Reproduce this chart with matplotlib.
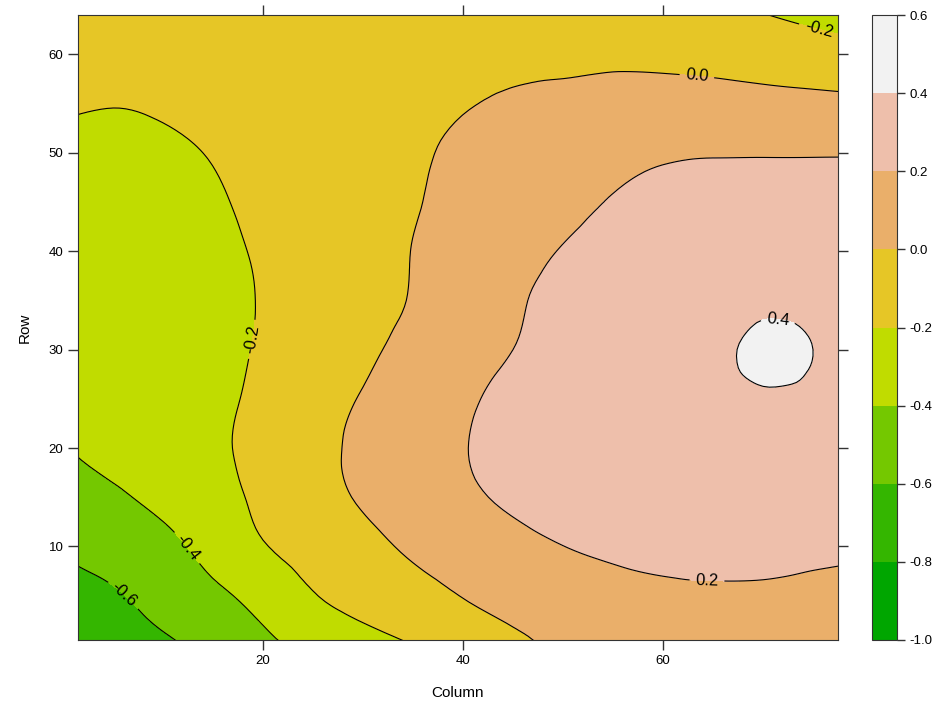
import numpy as np
import matplotlib.pyplot as plt
import matplotlib.tri as mtri

plt.rcParams['font.family'] = ['Liberation Sans', 'DejaVu Sans']

# grid (value estimated at every 5 columns / 5 rows)
columns = [0, 5, 10, 15, 20, 25, 30, 35, 40, 45, 50, 55, 60, 65, 70, 75, 80]
rows = [0, 5, 10, 15, 20, 25, 30, 35, 40, 45, 50, 55, 60, 65]
values = [
    [-0.76, -0.69, -0.63, -0.54, -0.44, -0.35, -0.27, -0.20, -0.12, -0.04, 0.03, 0.07, 0.10, 0.11, 0.11, 0.10, 0.08],
    [-0.68, -0.62, -0.53, -0.44, -0.33, -0.21, -0.13, -0.06, 0.005, 0.06, 0.10, 0.135, 0.165, 0.173, 0.17, 0.155, 0.14],
    [-0.58, -0.52, -0.45, -0.33, -0.21, -0.13, -0.05, 0.024, 0.082, 0.14, 0.198, 0.24, 0.26, 0.27, 0.27, 0.25, 0.235],
    [-0.50, -0.43, -0.35, -0.26, -0.167, -0.074, 0.019, 0.088, 0.16, 0.235, 0.29, 0.32, 0.335, 0.345, 0.345, 0.335, 0.32],
    [-0.41, -0.34, -0.29, -0.23, -0.15, -0.06, 0.04, 0.11, 0.19, 0.27, 0.31, 0.34, 0.36, 0.37, 0.375, 0.37, 0.36],
    [-0.37, -0.33, -0.29, -0.24, -0.16, -0.07, 0.01, 0.09, 0.17, 0.25, 0.30, 0.33, 0.36, 0.375, 0.39, 0.385, 0.375],
    [-0.34, -0.32, -0.29, -0.25, -0.18, -0.10, -0.03, 0.05, 0.13, 0.20, 0.27, 0.31, 0.35, 0.375, 0.42, 0.40, 0.365],
    [-0.32, -0.31, -0.29, -0.25, -0.19, -0.123, -0.056, 0.01, 0.095, 0.177, 0.25, 0.30, 0.34, 0.365, 0.38, 0.375, 0.365],
    [-0.30, -0.30, -0.28, -0.24, -0.18, -0.12, -0.06, 0.003, 0.06, 0.13, 0.21, 0.27, 0.31, 0.33, 0.34, 0.34, 0.33],
    [-0.28, -0.28, -0.26, -0.22, -0.16, -0.11, -0.06, -0.01, 0.04, 0.09, 0.15, 0.21, 0.25, 0.27, 0.28, 0.28, 0.28],
    [-0.25, -0.25, -0.23, -0.19, -0.14, -0.10, -0.06, -0.02, 0.03, 0.08, 0.12, 0.15, 0.18, 0.19, 0.19, 0.19, 0.19],
    [-0.18, -0.195, -0.18, -0.15, -0.12, -0.09, -0.06, -0.035, -0.01, 0.02, 0.04, 0.06, 0.07, 0.07, 0.06, 0.05, 0.04],
    [-0.14, -0.15, -0.14, -0.12, -0.10, -0.08, -0.06, -0.05, -0.04, -0.03, -0.03, -0.03, -0.04, -0.06, -0.09, -0.12, -0.15],
    [-0.10, -0.10, -0.10, -0.09, -0.08, -0.07, -0.07, -0.07, -0.07, -0.08, -0.09, -0.11, -0.14, -0.18, -0.22, -0.26, -0.30],
]
levels = [-1.0, -0.8, -0.6, -0.4, -0.2, 0.0, 0.2, 0.4, 0.6]
level_colors = ['#00A600', '#34B600', '#74C800', '#C0DC00',
                '#E6C626', '#EAAF6A', '#EEBFAB', '#F2F2F2']
# where the contour labels sit (column, row)
label_spots = [(5.9, 4.9), (12.2, 9.7), (19.2, 31.0), (63.4, 57.9),
               (64.4, 6.6), (71.4, 32.4), (75.7, 63.0)]

cc, rr = np.meshgrid(columns, rows)
z = np.array(values)
tri = mtri.Triangulation(cc.ravel(), rr.ravel())
refiner = mtri.UniformTriRefiner(tri)
tri_f, z_f = refiner.refine_field(z.ravel(), subdiv=3)

fig = plt.figure(figsize=(9.36, 7.05), dpi=100)
ax = fig.add_axes([78 / 936, 65 / 705, 760 / 936, 625 / 705])
cax = fig.add_axes([872 / 936, 65 / 705, 25 / 936, 625 / 705])

cf = ax.tricontourf(tri_f, z_f, levels=levels, colors=level_colors)
cs = ax.tricontour(tri_f, z_f, levels=levels[1:-1], colors='black',
                   linewidths=0.8, linestyles='solid')
ax.clabel(cs, manual=label_spots, inline=True, fmt='%.1f', fontsize=12)

ax.set_xlim(1.5, 77.5)
ax.set_ylim(0.5, 64)
ax.set_xticks([20, 40, 60])
ax.set_yticks([10, 20, 30, 40, 50, 60])
ax.tick_params(direction='out', length=7, width=1, color='#333333', labelsize=9.5,
               top=True, right=True, labeltop=False, labelright=False)
ax.set_xlabel('Column', fontsize=11, labelpad=14)
ax.set_ylabel('Row', fontsize=11, labelpad=12)
for sp in ax.spines.values():
    sp.set_color('#333333')

cb = fig.colorbar(cf, cax=cax, ticks=levels)
cb.ax.set_yticklabels([f'{v:.1f}' for v in levels])
cb.ax.tick_params(direction='out', length=6, width=1, pad=3, color='#333333', labelsize=9.5)
cb.outline.set_edgecolor('#333333')

fig.savefig('out.png', dpi=100)
